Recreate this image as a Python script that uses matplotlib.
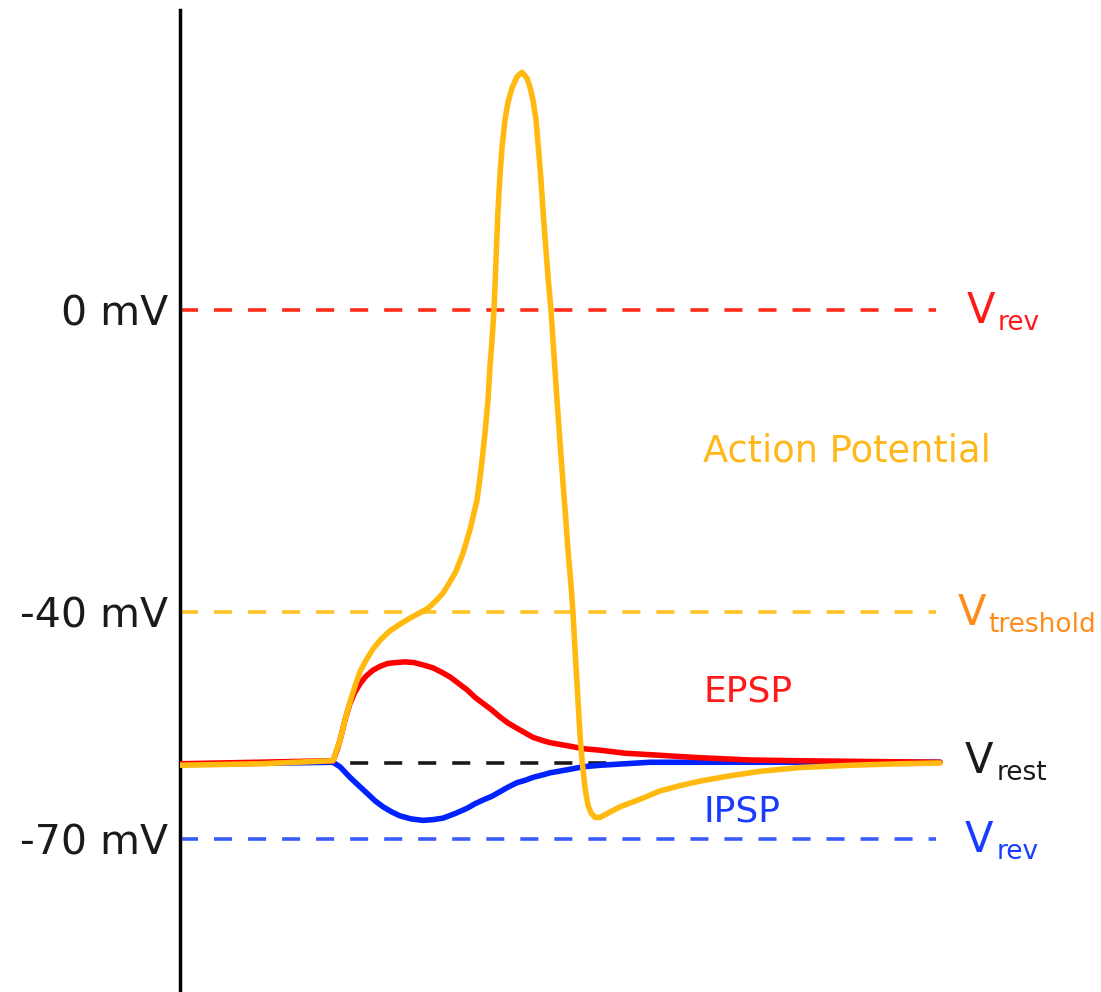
import matplotlib
matplotlib.use("Agg")
import matplotlib.pyplot as plt

# Membrane potential levels (mV)
V_REV_EXC = 0.0
V_THRESHOLD = -40.0
V_REST = -60.0
V_REV_INH = -70.0

tick_values = [0, -40, -70]
tick_labels = ["0 mV", "-40 mV", "-70 mV"]

# Action potential trace (time in ms, voltage in mV)
ap_t = [0, 4.0, 7.65, 7.8, 8.0, 8.25, 8.5, 8.75, 9.0, 9.3, 9.65, 10.05, 10.5, 11.0, 11.5, 12.0,
        12.4, 12.8, 13.15, 13.5, 13.8, 14.15, 14.5, 14.85, 15.05, 15.25, 15.4, 15.5, 15.6, 15.7,
        15.8, 15.9, 16.0, 16.1, 16.25, 16.4, 16.6, 16.85, 17.1, 17.35, 17.5, 17.65, 17.8, 17.9,
        18.05, 18.15, 18.3, 18.4, 18.55, 18.7, 18.85, 19.0, 19.15, 19.3, 19.4, 19.55, 19.65,
        19.75, 19.9, 20.0, 20.1, 20.25, 20.4, 20.55, 20.75, 21.0, 21.5, 22.0, 23.0, 24.0, 25.0,
        26.0, 27.5, 29.0, 31.0, 33.5, 36.0, 38.0]
ap_v = [-60.3, -60.1, -59.7, -58.5, -57.0, -54.3, -51.9, -49.8, -47.9, -46.4, -44.9, -43.6, -42.5, -41.6, -40.8, -40.1,
        -39.5, -38.5, -37.5, -36.0, -34.6, -32.2, -29.1, -25.2, -21.2, -16.3, -11.9, -7.5, -4.0, 0.0,
        6.6, 13.2, 17.9, 21.5, 25.2, 27.5, 29.4, 30.9, 31.5, 30.7, 29.5, 27.8, 25.2, 22.1,
        17.2, 13.2, 7.9, 4.4, 0.0, -6.0, -11.9, -17.5, -22.9, -28.1, -31.8, -36.4, -40.1,
        -45.0, -51.7, -56.3, -59.6, -63.3, -65.6, -66.6, -67.2, -67.2, -66.5, -65.8, -64.8, -63.7, -63.0,
        -62.4, -61.7, -61.1, -60.6, -60.3, -60.1, -60.0]

# Excitatory postsynaptic potential
epsp_t = [0, 7.65, 7.85, 8.0, 8.25, 8.5, 8.75, 9.0, 9.3, 9.65, 10.0, 10.4, 10.8, 11.25, 11.7,
          12.15, 12.65, 13.1, 13.5, 13.9, 14.35, 14.75, 15.15, 15.6, 16.0, 16.4, 16.85, 17.25,
          17.65, 18.1, 18.5, 19.35, 20.15, 21.0, 22.25, 23.5, 26.0, 28.5, 31.0, 34.5, 38.0]
epsp_v = [-60.1, -59.7, -58.3, -57.0, -54.3, -52.1, -50.6, -49.5, -48.5, -47.7, -47.2, -46.8, -46.7, -46.6, -46.7,
          -47.0, -47.4, -48.0, -48.6, -49.4, -50.3, -51.3, -52.1, -53.0, -53.9, -54.7, -55.4, -56.0,
          -56.6, -57.0, -57.3, -57.7, -58.1, -58.3, -58.7, -58.9, -59.3, -59.6, -59.7, -59.8, -59.9]

# Inhibitory postsynaptic potential
ipsp_t = [0, 7.65, 8.0, 8.5, 8.9, 9.35, 9.75, 10.15, 10.6, 11.0, 11.55, 12.15, 12.65, 13.15,
          13.75, 14.35, 14.75, 15.15, 15.6, 16.0, 16.4, 16.85, 17.25, 17.65, 18.1, 18.5, 19.35,
          20.15, 21.0, 22.25, 23.5, 26.0, 38.0]
ipsp_v = [-60.2, -59.9, -60.5, -61.9, -62.9, -64.0, -65.0, -65.8, -66.5, -67.0, -67.4, -67.6, -67.5, -67.3,
          -66.7, -66.0, -65.4, -64.9, -64.4, -63.8, -63.2, -62.6, -62.3, -61.9, -61.6, -61.3, -60.9,
          -60.5, -60.3, -60.1, -59.9, -59.9, -59.9]

T_END = 37.8

plt.rcParams['font.family'] = ['DejaVu Sans']
plt.rcParams['lines.scale_dashes'] = False

fig = plt.figure(figsize=(11.01, 9.92), dpi=100)
ax = fig.add_axes([180 / 1101, 0, 1 - 180 / 1101, 982 / 992])
ax.set_xlim(0, 46.05)
ax.set_ylim(-90.33, 39.74)

# reference levels
dash = (0, (13, 11.5))
ax.plot([0, T_END], [V_REV_EXC] * 2, color='#ff2a1a', lw=2.6, ls=dash, zorder=1)
ax.plot([0, T_END], [V_THRESHOLD] * 2, color='#ffc125', lw=2.6, ls=dash, zorder=1)
ax.plot([0, T_END], [V_REST] * 2, color='#1a1a1a', lw=2.6, ls=dash, zorder=1)
ax.plot([0, T_END], [V_REV_INH] * 2, color='#3a5cff', lw=2.6, ls=dash, zorder=1)

# traces
style = dict(lw=4.0, solid_capstyle='round', solid_joinstyle='round')
ax.plot(ipsp_t, ipsp_v, color='#0022ff', zorder=2, **style)
ax.plot(epsp_t, epsp_v, color='#ff0000', zorder=3, **style)
ax.plot(ap_t, ap_v, color='#ffb90f', zorder=4, **style)

# Curve labels
ax.text(26.15, -20.1, "Action Potential", color='#ffb81c', fontsize=26.5, va='baseline', ha='left')
ax.text(26.15, -51.9, "EPSP", color='#ff1a1a', fontsize=26, va='baseline', ha='left')
ax.text(26.15, -67.8, "IPSP", color='#1a3cff', fontsize=26, va='baseline', ha='left')

# V labels with subscripts drawn as separate texts
v_labels = [
    (39.35, -1.72, 40.9, -2.65, "rev", '#ff1a1a'),
    (38.9, -41.7, 40.4, -42.6, "treshold", '#ff8c1a'),
    (39.25, -61.3, 40.85, -62.25, "rest", '#1a1a1a'),
    (39.25, -71.8, 40.85, -72.7, "rev", '#1a3cff'),
]
for vx, vy, sx, sy, sub, c in v_labels:
    ax.text(vx, vy, "V", color=c, fontsize=30, va='baseline', ha='left', clip_on=False)
    ax.text(sx, sy, sub, color=c, fontsize=19, va='baseline', ha='left', clip_on=False)

for side in ['top', 'right', 'bottom']:
    ax.spines[side].set_visible(False)
ax.spines['left'].set_linewidth(2.5)
ax.spines['left'].set_color('black')

ax.set_xticks([])
ax.set_yticks(tick_values)
ax.set_yticklabels(tick_labels, fontsize=29.5, color='#1a1a1a')
ax.tick_params(axis='y', length=0, pad=8.6)

fig.savefig("out.png", dpi=100)
